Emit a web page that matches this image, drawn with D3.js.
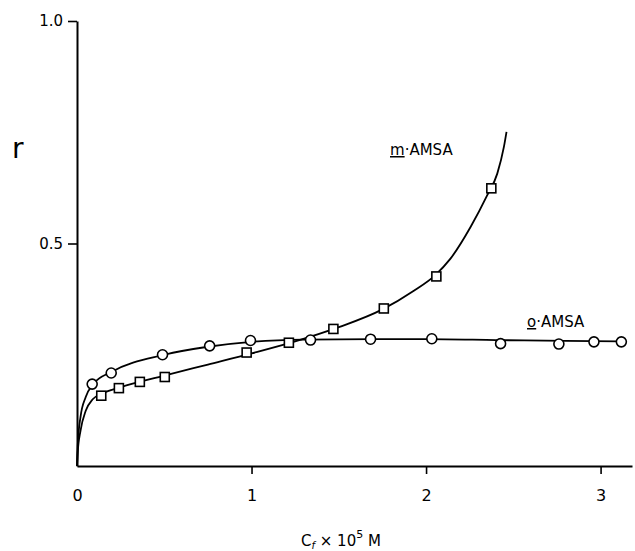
<!DOCTYPE html>
<meta charset="utf-8">
<style>
  body { margin: 0; background: #fff; }
  text { font-family: "DejaVu Sans", sans-serif; fill: #000; }
</style>
<svg width="635" height="551"></svg>
<script src="https://cdn.jsdelivr.net/npm/d3@7"></script>
<script>

// measured points, o-AMSA (circles)
var oX = [0.087, 0.196, 0.490, 0.760, 0.994, 1.338, 1.682, 2.033, 2.427, 2.761, 2.962, 3.119];
var oY = [0.184, 0.209, 0.250, 0.270, 0.282, 0.283, 0.285, 0.286, 0.275, 0.274, 0.279, 0.279];

// measured points, m-AMSA (squares)
var mX = [0.139, 0.240, 0.360, 0.503, 0.972, 1.214, 1.469, 1.758, 2.059, 2.374];
var mY = [0.158, 0.175, 0.189, 0.200, 0.255, 0.277, 0.308, 0.354, 0.426, 0.624];

// drawn curves
var oCurveX = [0, 0.004, 0.02, 0.05, 0.09, 0.2, 0.5, 0.75, 1.0, 1.3, 1.7, 2.0, 2.4, 2.8, 3.12];
var oCurveY = [0, 0.045, 0.11, 0.155, 0.183, 0.212, 0.250, 0.268, 0.279, 0.284, 0.285, 0.285, 0.283, 0.281, 0.280];
var mCurveX = [0, 0.004, 0.02, 0.05, 0.09, 0.14, 0.25, 0.5, 0.75, 1.0, 1.25, 1.5, 1.75, 1.93, 2.05, 2.14, 2.255, 2.35, 2.408, 2.446, 2.461];
var mCurveY = [0, 0.03, 0.079, 0.124, 0.150, 0.162, 0.177, 0.203, 0.228, 0.253, 0.280, 0.312, 0.352, 0.394, 0.428, 0.466, 0.537, 0.608, 0.657, 0.717, 0.751];

var xTicks = [0, 1, 2, 3];
var yTicks = [0.5, 1.0];

var svg = d3.select("svg");

var x = d3.scaleLinear().domain([0, 3.18]).range([77, 632]);
var y = d3.scaleLinear().domain([0, 1]).range([466, 21]);

// axes
var xAxis = svg.append("g")
    .attr("transform", "translate(0," + y(0) + ")")
    .call(d3.axisBottom(x).tickValues(xTicks).tickSize(8).tickSizeOuter(0).tickFormat(d3.format("d")));
xAxis.attr("font-size", 16);
xAxis.select(".domain").attr("stroke-width", 2);
xAxis.selectAll(".tick line").attr("stroke-width", 1.6)
    .attr("display", function(d) { return d == 0 ? "none" : null; });
xAxis.selectAll(".tick text").attr("y", 24)
    .style("font-family", "'DejaVu Sans', sans-serif");

var yAxis = svg.append("g")
    .attr("transform", "translate(" + x(0) + ",0)")
    .call(d3.axisLeft(y).tickValues(yTicks).tickSize(9).tickSizeOuter(0).tickFormat(d3.format(".1f")));
yAxis.attr("font-size", 15);
yAxis.select(".domain").attr("stroke-width", 2);
yAxis.selectAll(".tick line").attr("stroke-width", 1.6);
yAxis.selectAll(".tick text").attr("x", -14)
    .style("font-family", "'DejaVu Sans', sans-serif");

// curves
var line = d3.line()
    .x(function(d) { return x(d[0]); })
    .y(function(d) { return y(d[1]); })
    .curve(d3.curveMonotoneX);

svg.append("path")
    .datum(d3.zip(oCurveX, oCurveY))
    .attr("d", line)
    .attr("fill", "none").attr("stroke", "#000").attr("stroke-width", 1.8);

svg.append("path")
    .datum(d3.zip(mCurveX, mCurveY))
    .attr("d", line)
    .attr("fill", "none").attr("stroke", "#000").attr("stroke-width", 1.8);

// markers
svg.append("g").selectAll("circle")
    .data(d3.zip(oX, oY))
    .enter().append("circle")
    .attr("cx", function(d) { return x(d[0]); })
    .attr("cy", function(d) { return y(d[1]); })
    .attr("r", 5)
    .attr("fill", "#fff").attr("stroke", "#000").attr("stroke-width", 1.6);

var s = 9;
svg.append("g").selectAll("rect")
    .data(d3.zip(mX, mY))
    .enter().append("rect")
    .attr("x", function(d) { return x(d[0]) - s / 2; })
    .attr("y", function(d) { return y(d[1]) - s / 2; })
    .attr("width", s).attr("height", s)
    .attr("fill", "#fff").attr("stroke", "#000").attr("stroke-width", 1.6);

// labels
var mLab = svg.append("text").attr("x", 390).attr("y", 155).attr("font-size", 15);
mLab.append("tspan").attr("text-decoration", "underline").text("m");
mLab.append("tspan").text("·AMSA");

var oLab = svg.append("text").attr("x", 527).attr("y", 327).attr("font-size", 15);
oLab.append("tspan").attr("text-decoration", "underline").text("o");
oLab.append("tspan").text("·AMSA");

svg.append("text").attr("x", 12).attr("y", 158).attr("font-size", 28).text("r");

var xl = svg.append("text").attr("x", 301).attr("y", 546).attr("font-size", 15);
xl.append("tspan").text("C");
xl.append("tspan").attr("font-size", 10).attr("dy", 3).attr("font-style", "italic").text("f");
xl.append("tspan").attr("dy", -3).text(" × 10");
xl.append("tspan").attr("font-size", 11).attr("dy", -8).text("5");
xl.append("tspan").attr("dy", 8).text("  M");

</script>
